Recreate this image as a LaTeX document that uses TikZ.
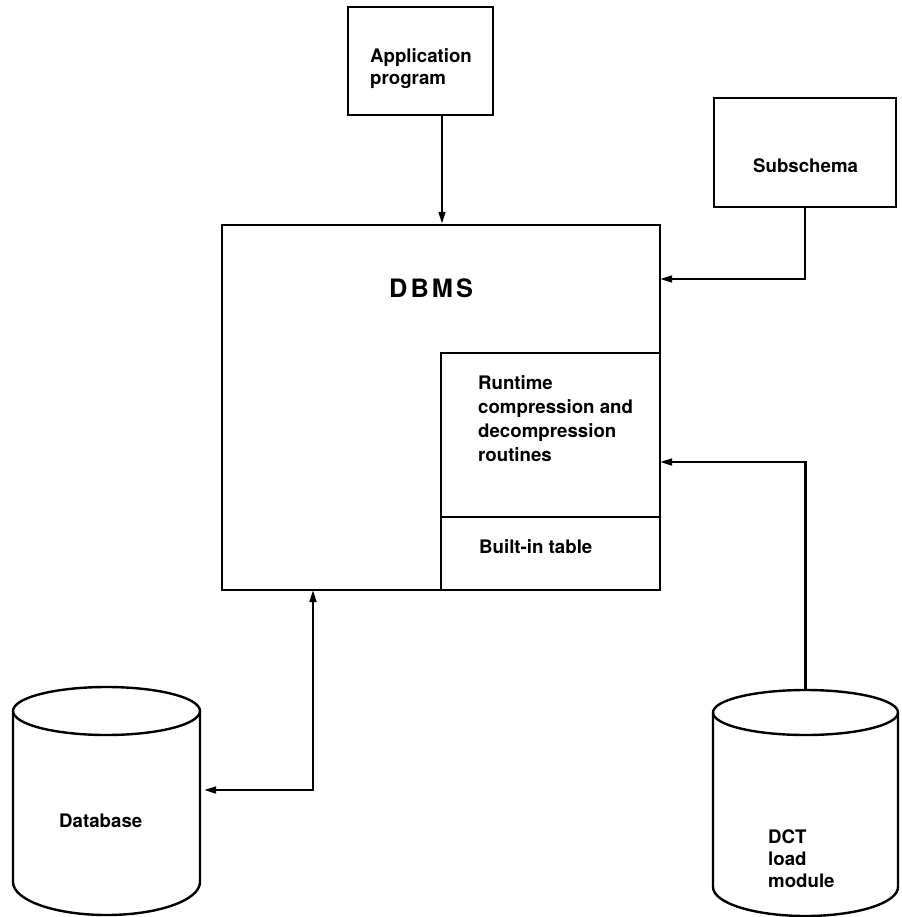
\documentclass[tikz,border=0pt]{standalone}
\usepackage{fontspec}
\setmainfont{TeX Gyre Heros}
\usetikzlibrary{fit,arrows.meta}
\begin{document}
\begin{tikzpicture}[x=0.75pt,y=-0.75pt,line width=1.8pt,
  box/.style={draw,inner sep=0pt,fit={#1}},
  cyl/.style={inner sep=0pt,fit={#1}},
  txt/.style={inner sep=0pt,align=left,font=\fontsize{14}{16.5}\selectfont\bfseries},
  rtxt/.style={inner sep=0pt,align=left,font=\fontsize{14}{18}\selectfont\bfseries},
  bigtxt/.style={inner sep=0pt,font=\fontsize{19}{22}\selectfont\bfseries\addfontfeature{LetterSpace=12}},
  tip/.tip={Triangle[length=9pt,width=5pt]},
  arr/.style={-tip},
  arrboth/.style={tip-tip}]
\useasboundingbox (0,0) rectangle (902,917);

% boxes
\node[box={(348,7) (493,115)}] (app) {};
\node[txt,anchor=north west] (apptxt) at (369,47.5) {Application\\program};
\node[box={(714,98) (896,207)}] (sub) {};
\node[txt,anchor=base west] (subtxt) at (752,172) {Subschema};
\node[box={(222,225) (660,590)}] (dbms) {};
\node[bigtxt,anchor=base west] (dbmstxt) at (388,297) {DBMS};
\node[box={(441,353) (660,517)}] (rt) {};
\node[rtxt,anchor=north west] (rttxt) at (477,374.6) {Runtime\\compression and\\decompression\\routines};
\node[box={(441,517) (660,590)}] (bt) {};
\node[txt,anchor=base west] (bttxt) at (478,553) {Built-in table};

% Database cylinder
\node[cyl={(13,687) (200,915)}] (db) {};
\draw (106.5,711) ellipse [x radius=70.125pt,y radius=18pt];
\draw (13,711) -- (13,882) arc [start angle=180,end angle=360,x radius=70.125pt,y radius=24.75pt] -- (200,711);
\node[txt,anchor=base west] (dbtxt) at (58,827) {Database};

% DCT cylinder
\node[cyl={(713,690) (898,916)}] (dct) {};
\draw (805.5,712.5) ellipse [x radius=69.375pt,y radius=16.875pt];
\draw (713,712.5) -- (713,887) arc [start angle=180,end angle=360,x radius=69.375pt,y radius=21.75pt] -- (898,712.5);
\node[txt,anchor=north west] (dcttxt) at (767,828.6) {DCT\\load\\module};

% connectors
\coordinate (a1) at (442,115);
\draw[arr] (a1) -- (a1 |- dbms.north);
\coordinate (s1) at (660,279);
\draw[arr] (sub.south) |- (s1);
\coordinate (r1) at (660,462);
\draw[arr] (dct.north) |- (r1);
\coordinate (d1) at (204,790);
\coordinate (d2) at (313,590);
\draw[arrboth] (d1) -| (d2);
\end{tikzpicture}
\end{document}
